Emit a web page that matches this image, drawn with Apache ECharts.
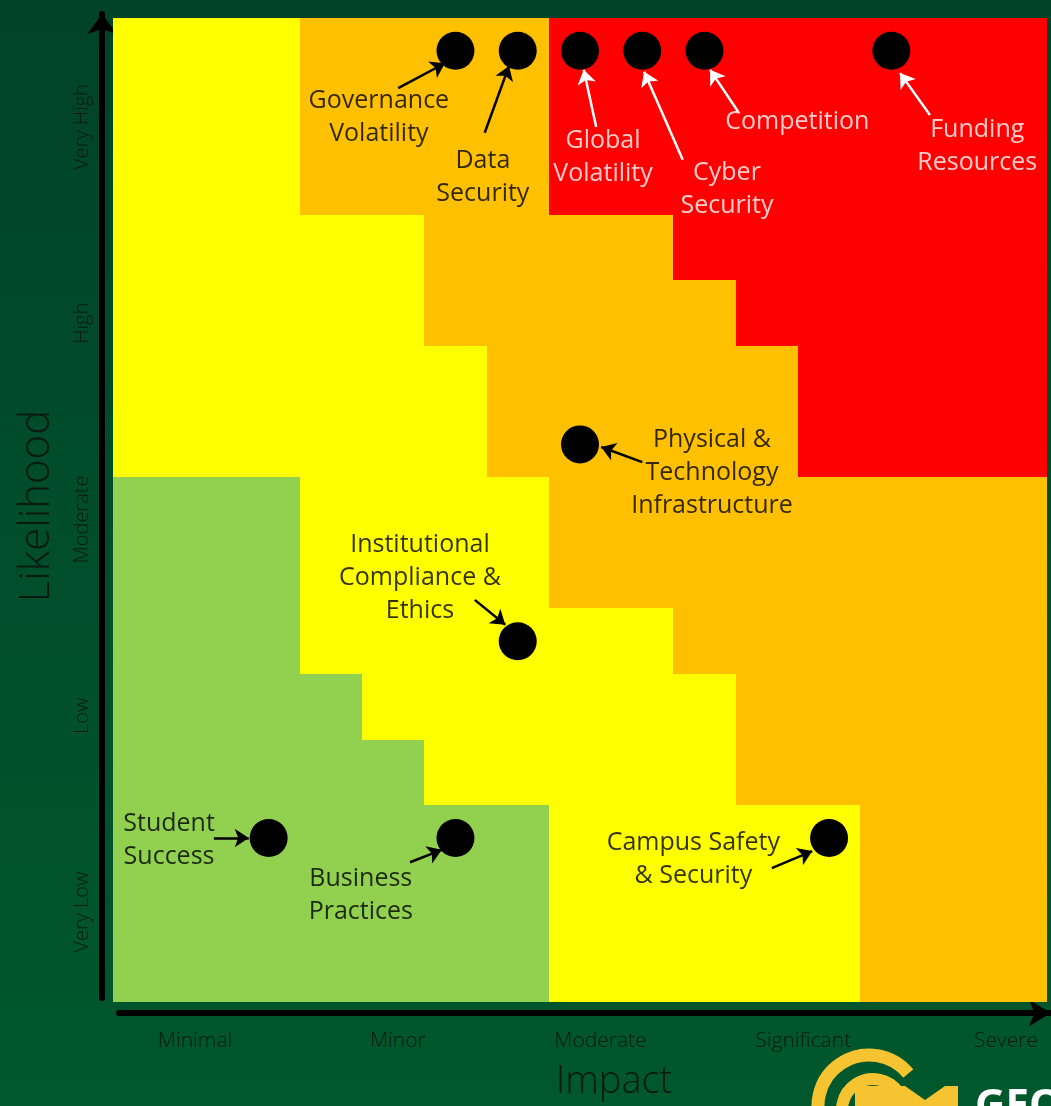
<!DOCTYPE html>
<html lang="en">
  <head>
    <meta charset="UTF-8" />
    <title>Risk Matrix</title>
    <script src="https://cdn.jsdelivr.net/npm/echarts@6/dist/echarts.min.js"></script>
    <style>
      html, body { margin: 0; padding: 0; }
      #chart { width: 1051px; height: 1106px; }
    </style>
  </head>
  <body>
    <div id="chart"></div>
    <script>
      // axis tick labels
      var impactLevels = ["Minimal", "Minor", "Moderate", "Significant", "Severe"];
      var likelihoodLevels = ["Very Low", "Low", "Moderate", "High", "Very High"];

      // 15x15 zone grid, top row first: G green, Y yellow, O orange, R red
      var zoneRows = [
        "YYYOOOORRRRRRRR",
        "YYYOOOORRRRRRRR",
        "YYYOOOORRRRRRRR",
        "YYYYYOOOORRRRRR",
        "YYYYYOOOOORRRRR",
        "YYYYYYOOOOORRRR",
        "YYYYYYOOOOORRRR",
        "GGGYYYYOOOOOOOO",
        "GGGYYYYOOOOOOOO",
        "GGGYYYYYYOOOOOO",
        "GGGGYYYYYYOOOOO",
        "GGGGGYYYYYOOOOO",
        "GGGGGGGYYYYYOOO",
        "GGGGGGGYYYYYOOO",
        "GGGGGGGYYYYYOOO"
      ];
      var zoneColors = { G: "#92d050", Y: "#ffff00", O: "#ffc000", R: "#ff0000" };

      // risks: impact / likelihood on the 0..15 grid
      var riskNames = [
        "Governance Volatility", "Data Security", "Global Volatility", "Cyber Security",
        "Competition", "Funding Resources", "Physical & Technology Infrastructure",
        "Institutional Compliance & Ethics", "Student Success", "Business Practices",
        "Campus Safety & Security"
      ];
      var riskImpact = [5.5, 6.5, 7.5, 8.5, 9.5, 12.5, 7.5, 6.5, 2.5, 5.5, 11.5];
      var riskLikelihood = [14.5, 14.5, 14.5, 14.5, 14.5, 14.5, 8.5, 5.5, 2.5, 2.5, 2.5];

      // callout text (lines) and where it sits
      var calloutText = [
        ["Governance", "Volatility"], ["Data", "Security"], ["Global", "Volatility"],
        ["Cyber", "Security"], ["Competition"], ["Funding", "Resources"],
        ["Physical &", "Technology", "Infrastructure"], ["Institutional", "Compliance &", "Ethics"],
        ["Student", "Success"], ["Business", "Practices"], ["Campus Safety", "& Security"]
      ];
      var calloutAt = [
        [4.27, 13.48], [5.94, 12.57], [7.87, 12.87], [9.86, 12.38], [10.99, 13.42],
        [13.88, 13.04], [9.62, 8.06], [4.93, 6.46], [0.9, 2.46], [3.98, 1.62], [9.32, 2.17]
      ];
      var arrowFrom = [
        [4.58, 13.93], [5.97, 13.25], [7.76, 13.34], [9.15, 12.84], [10.04, 13.57],
        [13.12, 13.52], [8.5, 8.23], [5.81, 6.13], [1.62, 2.5], [4.77, 2.13], [10.58, 2.04]
      ];
      var arrowTo = [
        [5.33, 14.31], [6.36, 14.27], [7.56, 14.21], [8.53, 14.18], [9.59, 14.21],
        [12.64, 14.16], [7.84, 8.46], [6.3, 5.75], [2.18, 2.5], [5.28, 2.32], [11.23, 2.3]
      ];
      var whiteText = [false, false, true, true, true, true, false, false, false, false, false];

      // build zone runs
      var zoneRuns = [];
      zoneRows.forEach(function (row, j) {
        var r = zoneRows.length - 1 - j;
        var start = 0;
        for (var i = 1; i <= row.length; i++) {
          if (i === row.length || row[i] !== row[start]) {
            zoneRuns.push([start, i, r, row[start]]);
            start = i;
          }
        }
      });

      var font = "'Open Sans', 'Noto Sans', sans-serif";
      var chart = echarts.init(document.getElementById("chart"));

      var option = {
        backgroundColor: {
          type: "linear", x: 0, y: 0, x2: 0, y2: 1,
          colorStops: [
            { offset: 0, color: "#00432a" },
            { offset: 1, color: "#00582c" }
          ]
        },
        animation: false,
        grid: [
          { left: 113, top: 18, width: 934, height: 984 },
          { left: 119, top: 18, right: 0, height: 984 },
          { left: 113, top: 14, width: 934, height: 984 }
        ],
        xAxis: [
          { gridIndex: 0, type: "value", min: 0, max: 15, show: false },
          {
            gridIndex: 1, type: "value", min: 0.625, max: 5.222, offset: 11,
            axisLine: {
              show: true, onZero: false, symbol: ["none", "arrow"], symbolSize: [20, 22],
              lineStyle: { color: "#000", width: 6 }
            },
            axisTick: { show: false },
            splitLine: { show: false },
            axisLabel: {
              customValues: [1, 2, 3, 4, 5],
              formatter: function (v) { return impactLevels[Math.round(v) - 1]; },
              color: "#0b1a10", fontSize: 21, fontWeight: 300, fontFamily: font, margin: 18
            },
            name: "Impact", nameLocation: "middle", nameGap: 50,
            nameTextStyle: { color: "#0b1a10", fontSize: 38, fontWeight: 300, fontFamily: font, padding: [0, 0, 0, 58] }
          },
          { gridIndex: 2, type: "value", min: 0, max: 1, show: false }
        ],
        yAxis: [
          { gridIndex: 0, type: "value", min: 0, max: 15, show: false },
          { gridIndex: 1, type: "value", min: 0, max: 1, show: false },
          {
            gridIndex: 2, type: "value", min: 0.562, max: 5.576, offset: 11,
            axisLine: {
              show: true, onZero: false, symbol: ["none", "arrow"], symbolSize: [22, 20],
              lineStyle: { color: "#000", width: 6 }
            },
            axisTick: { show: false },
            splitLine: { show: false },
            axisLabel: {
              customValues: [1, 2, 3, 4, 5], rotate: 90,
              formatter: function (v) { return likelihoodLevels[Math.round(v) - 1]; },
              color: "#0b1a10", fontSize: 20, fontWeight: 300, fontFamily: font, margin: 10
            },
            name: "Likelihood", nameLocation: "middle", nameGap: 44, nameRotate: 90,
            nameTextStyle: { color: "#0b1a10", fontSize: 42, fontWeight: 300, fontFamily: font }
          }
        ],
        series: [
          {
            type: "custom",
            xAxisIndex: 0, yAxisIndex: 0,
            silent: true,
            data: zoneRuns,
            renderItem: function (params, api) {
              var p0 = api.coord([api.value(0), api.value(2) + 1]);
              var p1 = api.coord([api.value(1), api.value(2)]);
              var x0 = Math.round(p0[0]), y0 = Math.round(p0[1]);
              var x1 = Math.round(p1[0]), y1 = Math.round(p1[1]);
              return {
                type: "rect",
                shape: { x: x0, y: y0, width: x1 - x0, height: y1 - y0 },
                style: { fill: zoneColors[zoneRuns[params.dataIndex][3]] }
              };
            }
          },
          {
            type: "lines",
            coordinateSystem: "cartesian2d",
            xAxisIndex: 0, yAxisIndex: 0,
            symbol: ["none", "arrow"],
            symbolSize: 14,
            silent: true,
            data: arrowFrom.map(function (p, i) {
              return {
                coords: [p, arrowTo[i]],
                lineStyle: { color: whiteText[i] ? "#ffffff" : "#000000", width: 2.5, opacity: 1 }
              };
            })
          },
          {
            type: "scatter",
            xAxisIndex: 0, yAxisIndex: 0,
            symbolSize: 38,
            itemStyle: { color: "#000", opacity: 1 },
            data: riskNames.map(function (n, i) {
              return { name: n, value: [riskImpact[i], riskLikelihood[i]] };
            })
          },
          {
            type: "scatter",
            xAxisIndex: 0, yAxisIndex: 0,
            symbolSize: 1,
            itemStyle: { color: "rgba(0,0,0,0)" },
            silent: true,
            data: calloutAt.map(function (p, i) {
              return {
                value: p,
                label: {
                  show: true, position: "inside",
                  formatter: calloutText[i].join("\n"),
                  color: whiteText[i] ? "#ffffff" : "#000000",
                  fontSize: 25, fontFamily: font, lineHeight: 33, align: "center"
                }
              };
            })
          }
        ],
        graphic: [
          {
            type: "arc", silent: true,
            shape: { cx: 869, cy: 1106, r: 51, startAngle: Math.PI * 0.82, endAngle: Math.PI * 1.78 },
            style: { stroke: "#f6c431", lineWidth: 13, fill: null }
          },
          {
            type: "arc", silent: true,
            shape: { cx: 873, cy: 1110, r: 31, startAngle: Math.PI * 0.82, endAngle: Math.PI * 1.8 },
            style: { stroke: "#f6c431", lineWidth: 12, fill: null }
          },
          {
            type: "polygon", silent: true,
            shape: { points: [[855, 1086], [905, 1086], [925, 1100], [945, 1086], [958, 1086], [958, 1106], [855, 1106]] },
            style: { fill: "#f6c431" }
          },
          {
            type: "text", silent: true, left: 975, top: 1086,
            style: { text: "GEORGE", fill: "#ffffff", font: "bold 42px 'Open Sans', sans-serif" }
          }
        ]
      };
      chart.setOption(option);
    </script>
  </body>
</html>
